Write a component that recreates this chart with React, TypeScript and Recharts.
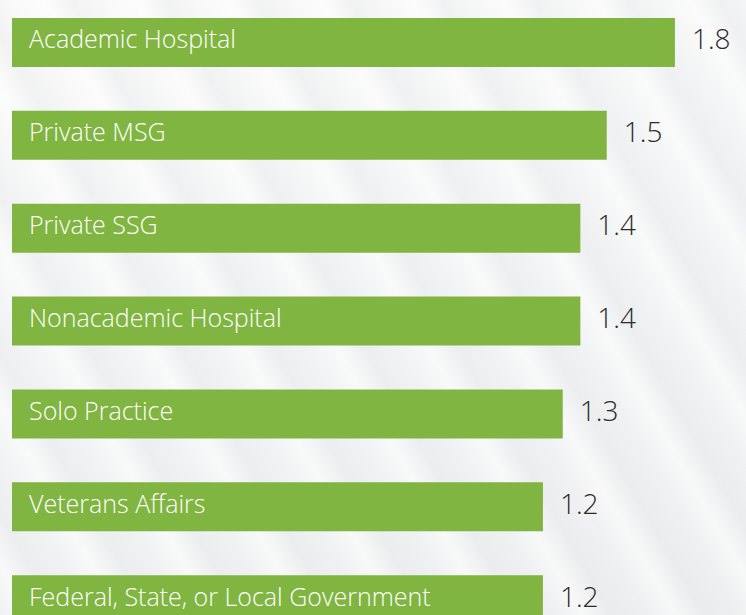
import React from 'react';
import { BarChart, Bar, XAxis, YAxis, LabelList } from 'recharts';

const categories = [
  'Academic Hospital',
  'Private MSG',
  'Private SSG',
  'Nonacademic Hospital',
  'Solo Practice',
  'Veterans Affairs',
  'Federal, State, or Local Government',
];
const values = [1.8, 1.49, 1.37, 1.37, 1.29, 1.2, 1.2];

// the bars are not drawn from zero in the original graphic
const AXIS_MIN = -1.2136;
const AXIS_MAX = 2.123;

const data = categories.map((name, i) => ({
  name,
  range: [AXIS_MIN, values[i]],
  label: values[i].toFixed(1),
}));

const FONT = '"Open Sans", "Noto Sans", sans-serif';

const background = [
  'repeating-linear-gradient(60deg, rgba(255,255,255,0) 0px, rgba(255,255,255,0.55) 25px, rgba(228,229,231,0.35) 50px, rgba(255,255,255,0) 80px)',
  'linear-gradient(165deg, #fafafa 0%, #f3f4f5 45%, #eeeff0 100%)',
].join(', ');

export default function App() {
  return (
    <div
      style={{
        position: 'fixed',
        top: 0,
        left: 0,
        width: 746,
        height: 615,
        overflow: 'hidden',
        background,
      }}
    >
      <div style={{ marginTop: -4 }}>
        <BarChart
          width={746}
          height={650}
          data={data}
          layout="vertical"
          margin={{ top: 0, right: 0, bottom: 0, left: 12 }}
        >
          <XAxis type="number" domain={[AXIS_MIN, AXIS_MAX]} hide allowDataOverflow />
          <YAxis type="category" dataKey="name" hide />
          <Bar dataKey="range" fill="#80b541" barSize={49} isAnimationActive={false}>
            <LabelList
              dataKey="name"
              position="insideLeft"
              offset={17}
              fill="#ffffff"
              fontSize={25}
              fontFamily={FONT}
              fontWeight={300}
              dy={-3}
            />
            <LabelList
              dataKey="label"
              position="right"
              offset={17}
              fill="#2b2b2b"
              fontSize={28}
              fontFamily={FONT}
              fontWeight={300}
              dy={-3}
            />
          </Bar>
        </BarChart>
      </div>
    </div>
  );
}
